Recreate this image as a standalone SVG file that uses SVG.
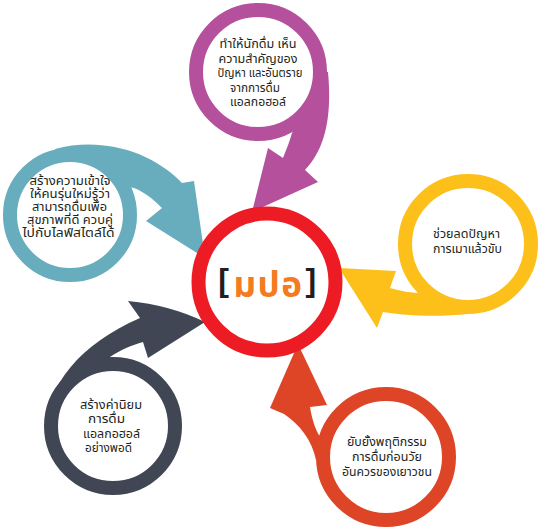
<svg xmlns="http://www.w3.org/2000/svg" width="539" height="529" viewBox="0 0 539 529">
<style>
.ring{fill:#fff;stroke-width:14}
.lbl{font-family:"Noto Sans Thai","Noto Sans Thai UI","Noto Sans",sans-serif;font-size:12px;fill:#231f20;text-anchor:middle}
.sm{font-size:11.5px}
</style>
<rect width="539" height="529" fill="#fff"/>
<g id="connectors">
<path id="arrow-purple" fill="#b5509c" d="M328,72 C332,115 326,148 305,170 L318,182 L252,212 L268,148 L283,158 C287,148 290,140 292,133 L300,118 A62 62 0 0 0 320,72 Z"/>
<path id="arrow-teal" fill="#68adbe" d="M55,149 C100,137 150,150 182,183 L194,181 L205,258 L146,221 L162,208 C152,198 144,192 134,188 L124,186 A59 59 0 0 0 58,157 Z"/>
<path id="arrow-yellow" fill="#fdc01a" d="M468,314 C440,317 405,316 383,312 L377,328 L339,268 L396,271 L390,288 C400,291 412,293 423,293 L427,288 A62 62 0 0 0 468,306 Z"/>
<path id="arrow-dark" fill="#414654" d="M45,430 C47,385 80,344 140,318 L128,301 Q170,305 205,322 L148,358 L143,342 C132,345 120,350 110,357 L108,366 A60 60 0 0 0 53,426 Z"/>
<path id="arrow-orange" fill="#de4527" d="M316,460 C312,440 300,425 284,414 L270,408 L298,344 L327,405 L310,407 C312,420 316,432 322,440 L330,440 A60 60 0 0 0 326,460 Z"/>
</g>
<g id="node-purple">
<circle class="ring" cx="258" cy="72" r="62" stroke="#b5509c" stroke-width="17"/>
<text class="lbl"><tspan x="258" y="48" textLength="77" lengthAdjust="spacingAndGlyphs">ทำให้นักดื่ม เห็น</tspan><tspan x="258" y="62.5" textLength="79" lengthAdjust="spacingAndGlyphs">ความสำคัญของ</tspan><tspan x="260" y="77" textLength="85" lengthAdjust="spacingAndGlyphs">ปัญหา และอันตราย</tspan><tspan x="255" y="91.5" textLength="50" lengthAdjust="spacingAndGlyphs">จากการดื่ม</tspan><tspan x="258" y="106" textLength="56" lengthAdjust="spacingAndGlyphs">แอลกอฮอล์</tspan></text>
</g>
<g id="node-teal">
<circle class="ring" cx="70" cy="215" r="60" stroke="#68adbe"/>
<text class="lbl sm"><tspan x="70" y="185" textLength="81" lengthAdjust="spacingAndGlyphs">สร้างความเข้าใจ</tspan><tspan x="70" y="197.5" textLength="80" lengthAdjust="spacingAndGlyphs">ให้คนรุ่นใหม่รู้ว่า</tspan><tspan x="69.5" y="210.5" textLength="75" lengthAdjust="spacingAndGlyphs">สามารถดื่มเพื่อ</tspan><tspan x="70" y="224" textLength="86" lengthAdjust="spacingAndGlyphs">สุขภาพที่ดี ควบคู่</tspan><tspan x="68.5" y="237" textLength="92" lengthAdjust="spacingAndGlyphs">ไปกับไลฟ์สไตล์ได้</tspan></text>
</g>
<g id="node-yellow">
<circle class="ring" cx="468" cy="244" r="63" stroke="#fdc01a"/>
<text class="lbl"><tspan x="466.5" y="238" textLength="67" lengthAdjust="spacingAndGlyphs">ช่วยลดปัญหา</tspan><tspan x="467.5" y="253" textLength="69" lengthAdjust="spacingAndGlyphs">การเมาแล้วขับ</tspan></text>
</g>
<g id="node-dark">
<circle class="ring" cx="113" cy="426" r="62" stroke="#414654"/>
<text class="lbl"><tspan x="111" y="409" textLength="62" lengthAdjust="spacingAndGlyphs">สร้างค่านิยม</tspan><tspan x="106.5" y="423" textLength="37" lengthAdjust="spacingAndGlyphs">การดื่ม</tspan><tspan x="111.5" y="438" textLength="57" lengthAdjust="spacingAndGlyphs">แอลกอฮอล์</tspan><tspan x="108.5" y="452" textLength="47" lengthAdjust="spacingAndGlyphs">อย่างพอดี</tspan></text>
</g>
<g id="node-orange">
<circle class="ring" cx="386" cy="457" r="63" stroke="#de4527"/>
<text class="lbl"><tspan x="387" y="446" textLength="80" lengthAdjust="spacingAndGlyphs">ยับยั้งพฤติกรรม</tspan><tspan x="387" y="461" textLength="70" lengthAdjust="spacingAndGlyphs">การดื่มก่อนวัย</tspan><tspan x="387" y="476" textLength="90" lengthAdjust="spacingAndGlyphs">อันควรของเยาวชน</tspan></text>
</g>
<g id="node-center">
<circle class="ring" cx="267" cy="282" r="68.5" stroke="#ed1c24"/>
<text x="268" y="297" text-anchor="middle" font-weight="bold" font-size="35" letter-spacing="1.5" font-family="'Noto Sans Thai','Noto Sans',sans-serif"><tspan fill="#231f20" font-family="'Liberation Sans',sans-serif" font-size="32" dy="-6">[</tspan><tspan fill="#f47b20" dx="3" dy="6">มปอ</tspan><tspan fill="#231f20" font-family="'Liberation Sans',sans-serif" font-size="32" dx="2" dy="-6">]</tspan></text>
</g>
</svg>
